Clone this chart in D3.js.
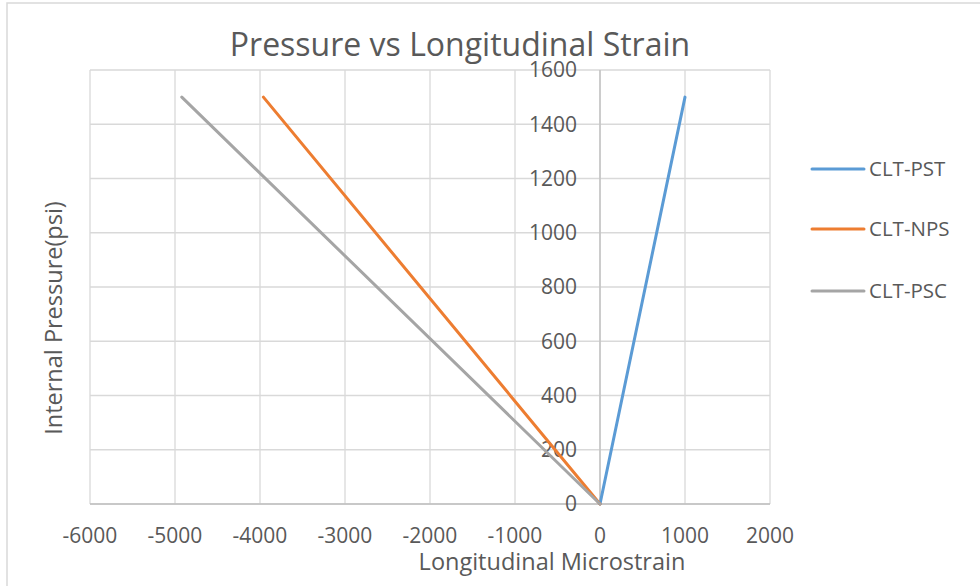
<!DOCTYPE html>
<html><head><meta charset="utf-8">
<script src="https://cdn.jsdelivr.net/npm/d3@7"></script>
<style>body{margin:0;background:#fff}svg{display:block}text{font-family:"Open Sans",sans-serif;fill:#595959}</style>
</head><body><svg id="c" width="980" height="586"></svg>
<script>
const xTicks=[-6000,-5000,-4000,-3000,-2000,-1000,0,1000,2000];
const yTicks=[0,200,400,600,800,1000,1200,1400,1600];
const seriesNames=["CLT-PST","CLT-NPS","CLT-PSC"];
const pressure=[0,1500];
const strainPST=[0,1000];
const strainNPS=[0,-3960];
const strainPSC=[0,-4920];
const colors=["#5B9BD5","#ED7D31","#A5A5A5"];
const strains=[strainPST,strainNPS,strainPSC];

const svg=d3.select("#c");
svg.append("rect").attr("x",7).attr("y",3).attr("width",980).attr("height",600).attr("fill","#fff").attr("stroke","#D9D9D9").attr("stroke-width",1.5);
const x=d3.scaleLinear().domain([-6000,2000]).range([90,770]);
const y=d3.scaleLinear().domain([0,1600]).range([504,70]);
const g=svg.append("g");
g.selectAll(".vg").data(xTicks).join("line").attr("x1",d=>x(d)).attr("x2",d=>x(d)).attr("y1",y(0)).attr("y2",y(1600)).attr("stroke","#D9D9D9").attr("stroke-width",1.3);
g.selectAll(".hg").data(yTicks).join("line").attr("x1",x(-6000)).attr("x2",x(2000)).attr("y1",d=>y(d)).attr("y2",d=>y(d)).attr("stroke","#D9D9D9").attr("stroke-width",1.3);
g.append("line").attr("x1",x(-6000)).attr("x2",x(2000)).attr("y1",y(0)).attr("y2",y(0)).attr("stroke","#BFBFBF").attr("stroke-width",1.3);
g.append("line").attr("x1",x(0)).attr("x2",x(0)).attr("y1",y(0)).attr("y2",y(1600)).attr("stroke","#BFBFBF").attr("stroke-width",1.3);
g.selectAll(".xl").data(xTicks).join("text").attr("x",d=>x(d)).attr("y",536).attr("dy","0.35em").attr("text-anchor","middle").style("font-size","21px").text(d=>d);
g.selectAll(".yl").data(yTicks).join("text").attr("x",x(0)-23).attr("y",d=>y(d)).attr("dy","0.35em").attr("text-anchor","end").style("font-size","21px").text(d=>d);
const line=d3.line().x(d=>x(d[0])).y(d=>y(d[1]));
strains.forEach((s,i)=>{
  g.append("path").datum(s.map((v,j)=>[v,pressure[j]])).attr("d",line).attr("fill","none").attr("stroke",colors[i]).attr("stroke-width",3).attr("stroke-linecap","round");
});
svg.append("text").attr("x",460).attr("y",45).attr("dy","0.35em").attr("text-anchor","middle").style("font-size","32px").text("Pressure vs Longitudinal Strain");
svg.append("text").attr("x",552).attr("y",562).attr("dy","0.35em").attr("text-anchor","middle").style("font-size","23.5px").text("Longitudinal Microstrain");
svg.append("text").attr("transform","translate(54,318) rotate(-90)").attr("dy","0.35em").attr("text-anchor","middle").style("font-size","23.5px").text("Internal Pressure(psi)");
const ly=[169,229,291];
seriesNames.forEach((n,i)=>{
  svg.append("line").attr("x1",812).attr("x2",864).attr("y1",ly[i]).attr("y2",ly[i]).attr("stroke",colors[i]).attr("stroke-width",3).attr("stroke-linecap","round");
  svg.append("text").attr("x",869).attr("y",ly[i]).attr("dy","0.35em").style("font-size","20.5px").text(n);
});
</script></body></html>
